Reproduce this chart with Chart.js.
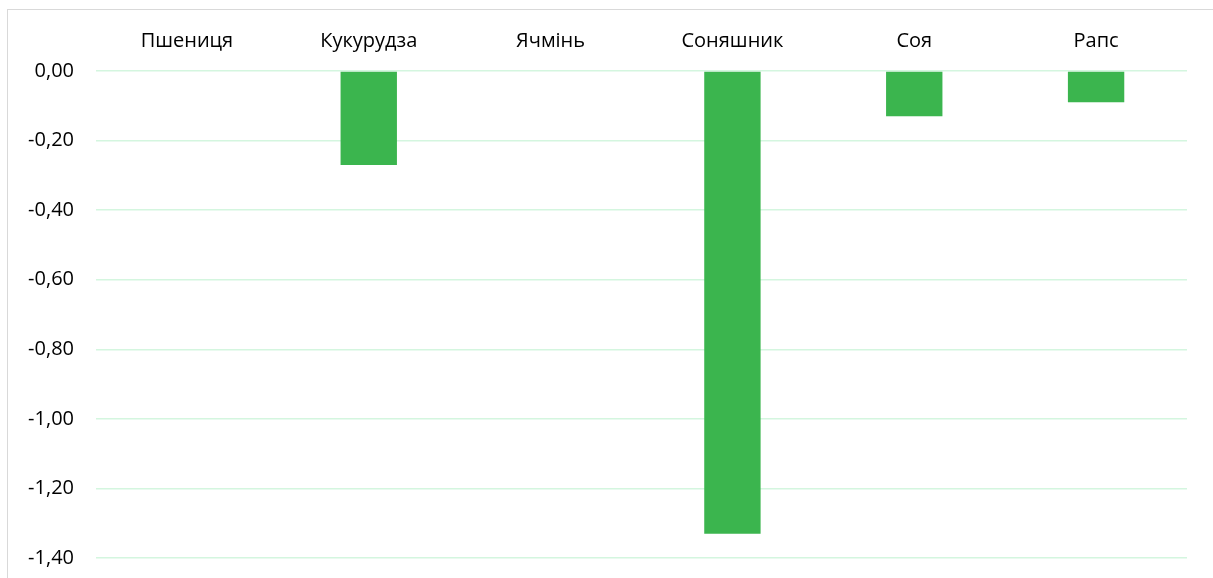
<!DOCTYPE html>
<html>
<head>
<meta charset="utf-8">
<script src="https://cdn.jsdelivr.net/npm/chart.js@4.4.1/dist/chart.umd.min.js"></script>
<style>
  html, body { margin: 0; padding: 0; background: #fff; overflow: hidden; }
  #frame {
    position: absolute; left: 7px; top: 9px;
    width: 1206px; height: 600px;
    border-left: 1px solid #d9d9d9; border-top: 1px solid #d9d9d9;
  }
  #frame canvas { display: block; }
</style>
</head>
<body>
<div id="frame"><canvas id="diagram" width="1205" height="599"></canvas></div>
<script>
// культури та зміна показника
var cultures = ['Пшениця', 'Кукурудза', 'Ячмінь', 'Соняшник', 'Соя', 'Рапс'];
var changes = [0, -0.27, 0, -1.33, -0.13, -0.09];
var yTicks = [0, -0.2, -0.4, -0.6, -0.8, -1.0, -1.2, -1.4];

var font = { family: "'Open Sans', sans-serif", size: 20 };

var ctx = document.getElementById('diagram').getContext('2d');
var grafik = new Chart(ctx, {
  type: 'bar',
  data: {
    labels: cultures,
    datasets: [{
      label: 'Зміна',
      data: changes,
      backgroundColor: '#3bb54e',
      borderWidth: 0,
      barPercentage: 0.31,
      categoryPercentage: 1
    }]
  },
  options: {
    responsive: false,
    animation: false,
    layout: { padding: { left: 0, right: 26, top: 0, bottom: 51 } },
    plugins: { legend: { display: false }, tooltip: { enabled: false } },
    scales: {
      x: {
        position: 'top',
        grid: { display: false, drawTicks: false },
        border: { display: false },
        ticks: { color: '#000', font: font, padding: 18, maxRotation: 0 },
        afterFit: function (s) { s.height = 61; }
      },
      y: {
        min: -1.4,
        max: 0,
        afterBuildTicks: function (s) { s.ticks = yTicks.map(function (v) { return { value: v }; }); },
        grid: { color: '#d4f6df', lineWidth: 1.5, drawTicks: false },
        border: { display: false },
        ticks: {
          color: '#000', font: font, padding: 22,
          callback: function (v) { return Number(v).toFixed(2).replace('.', ','); }
        },
        afterFit: function (s) { s.width = 88; }
      }
    }
  }
});
</script>
</body>
</html>
